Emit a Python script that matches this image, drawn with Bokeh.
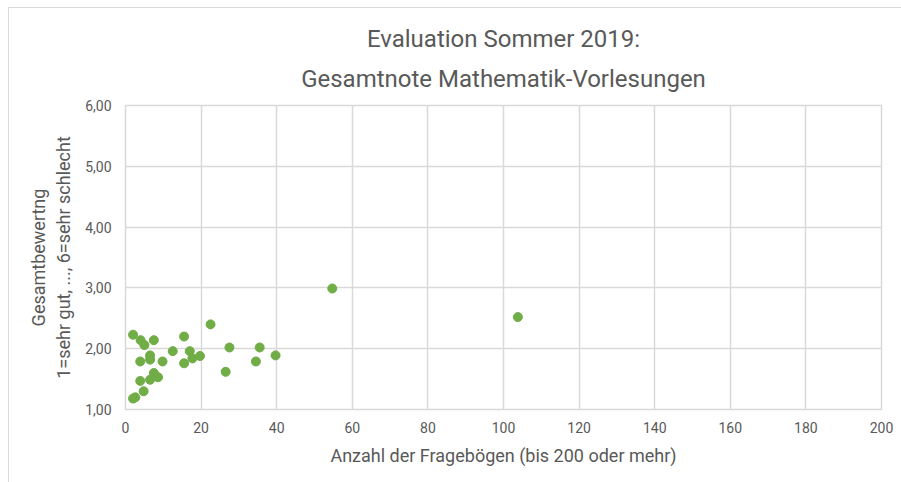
from bokeh.plotting import figure
from bokeh.models import Range1d, FixedTicker, Title
from bokeh.embed import file_html
from bokeh.resources import INLINE

# Data
anzahl = [2, 4, 5, 7.5, 15.5, 22.5, 12.5, 17, 27.5, 35.5, 39.7, 34.5, 26.5,
          19.7, 17.7, 15.5, 9.8, 6.5, 6.5, 3.9, 3.9, 6.5, 7.5, 8.6, 4.8, 2.6, 2.0,
          54.7, 103.8]
note = [2.23, 2.14, 2.06, 2.14, 2.20, 2.40, 1.96, 1.96, 2.02, 2.02, 1.89, 1.79, 1.62,
        1.88, 1.84, 1.76, 1.79, 1.89, 1.82, 1.79, 1.47, 1.49, 1.60, 1.53, 1.30, 1.20, 1.18,
        2.99, 2.52]

x_ticks = [0, 20, 40, 60, 80, 100, 120, 140, 160, 180, 200]
y_ticks = [1, 2, 3, 4, 5, 6]
y_tick_labels = ["1,00", "2,00", "3,00", "4,00", "5,00", "6,00"]

title_line1 = "Evaluation Sommer 2019:"
title_line2 = "Gesamtnote Mathematik-Vorlesungen"
x_label = "Anzahl der Fragebögen (bis 200 oder mehr)"
y_label = "Gesamtbewertng\n1=sehr gut, ..., 6=sehr schlecht"

FONT = "Roboto"
GRAY = "#595959"
GRID = "#d9d9d9"

p = figure(width=893, height=475, output_backend="svg", toolbar_location=None,
           x_range=Range1d(0, 200), y_range=Range1d(1, 6),
           min_border_left=116, min_border_right=21, min_border_top=97,
           min_border_bottom=74)
p.margin = (7, 0, 0, 8)
p.styles = {"border-left": "1px solid #d9d9d9", "border-top": "1px solid #d9d9d9"}

t2 = Title(text=title_line2, align="center", text_font=FONT, text_font_size="24px",
           text_color=GRAY, text_font_style="normal", standoff=26)
t1 = Title(text=title_line1, align="center", text_font=FONT, text_font_size="24px",
           text_color=GRAY, text_font_style="normal", standoff=-6)
p.add_layout(t2, "above")
p.add_layout(t1, "above")

p.scatter(anzahl, note, size=9, color="#70ad47", line_color="#70ad47")

p.xaxis.ticker = FixedTicker(ticks=x_ticks)
p.yaxis.ticker = FixedTicker(ticks=y_ticks)
p.yaxis.major_label_overrides = {t: l for t, l in zip(y_ticks, y_tick_labels)}

for ax in (p.xaxis, p.yaxis):
    ax.axis_line_color = None
    ax.major_tick_line_color = None
    ax.minor_tick_line_color = None
    ax.major_label_text_font = FONT
    ax.major_label_text_font_size = "14px"
    ax.major_label_text_color = GRAY
    ax.axis_label_text_font = FONT
    ax.axis_label_text_font_size = "18px"
    ax.axis_label_text_color = GRAY
    ax.axis_label_text_font_style = "normal"

p.xaxis.axis_label = x_label
p.yaxis.axis_label = y_label
p.xaxis.major_label_standoff = 6
p.yaxis.major_label_standoff = 8
p.xaxis.axis_label_standoff = 9
p.yaxis.axis_label_standoff = 8

p.xgrid.grid_line_color = GRID
p.ygrid.grid_line_color = GRID
p.xgrid.grid_line_width = 1.5
p.ygrid.grid_line_width = 1.5
p.outline_line_color = GRID
p.outline_line_width = 1.5
p.background_fill_color = "white"
p.border_fill_color = "white"

open("out.html", "w").write(file_html(p, INLINE))
